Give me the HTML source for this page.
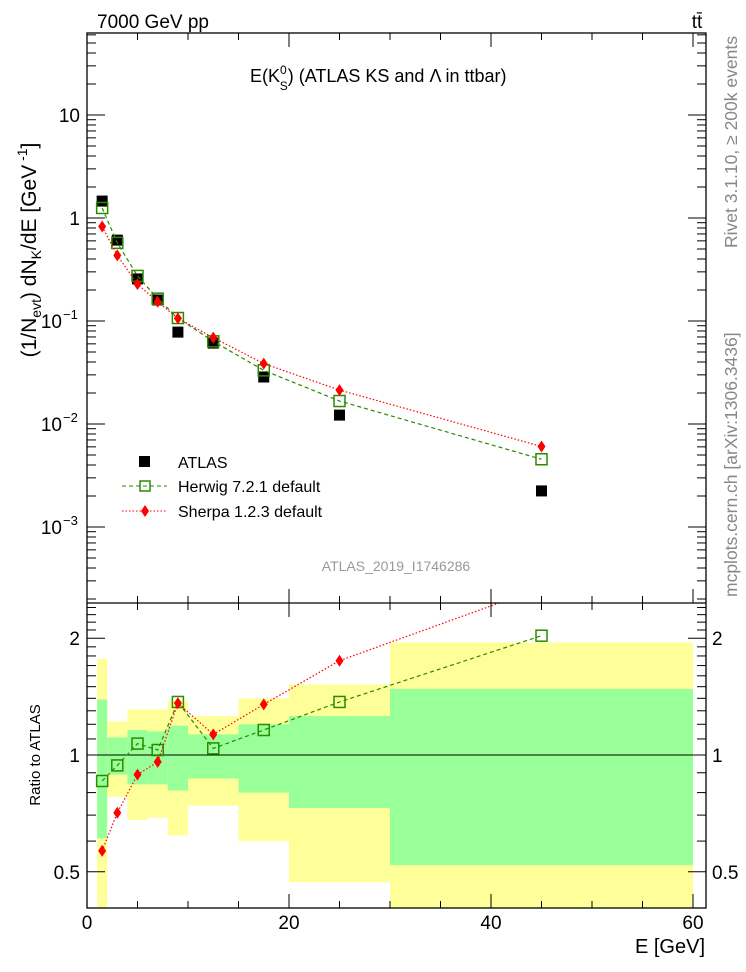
<!DOCTYPE html>
<html><head><meta charset="utf-8"><style>
body{margin:0;background:#fff;}
svg{display:block;font-family:"Liberation Sans",sans-serif;}
</style></head><body>
<svg id="chart" width="746" height="972" viewBox="0 0 746 972" xmlns="http://www.w3.org/2000/svg">
<text x="97" y="28" font-size="19">7000 GeV pp</text>
<text x="697" y="28" font-size="19" text-anchor="middle">tt̄</text>
<text x="250" y="82" font-size="18">E(K<tspan font-size="12" dy="-8">0</tspan><tspan font-size="12" dx="-7" dy="16">S</tspan><tspan dy="-8">) (ATLAS KS and Λ in ttbar)</tspan></text>
<text transform="translate(737,248) rotate(-90)" font-size="17.5" fill="#888">Rivet 3.1.10, ≥ 200k events</text>
<text transform="translate(737,597) rotate(-90)" font-size="17.5" fill="#888">mcplots.cern.ch [arXiv:1306.3436]</text>
<text transform="translate(36,250) rotate(-90)" font-size="21" text-anchor="middle">(1/N<tspan font-size="14" dy="5">evt</tspan><tspan dy="-5">) dN</tspan><tspan font-size="14" dy="5">K</tspan><tspan dy="-5">/dE [GeV</tspan><tspan font-size="14" dy="-9"> -1</tspan><tspan dy="9">]</tspan></text>
<text transform="translate(40,755) rotate(-90)" font-size="15" text-anchor="middle">Ratio to ATLAS</text>
<text x="705" y="953" font-size="20" text-anchor="end">E [GeV]</text>
<text x="396" y="571" font-size="14" fill="#999" text-anchor="middle">ATLAS_2019_I1746286</text>
<g id="bands"></g><g id="main"></g><g id="ratio"></g><g id="axes"></g>
<g>
<rect x="139" y="456" width="11" height="11" fill="#000"/>
<text x="178" y="468" font-size="16">ATLAS</text>
<line x1="122" y1="486" x2="167" y2="486" stroke="#2a8a00" stroke-dasharray="4,3"/>
<rect x="140" y="481" width="10" height="10" fill="none" stroke="#2a8a00" stroke-width="1.5"/>
<text x="178" y="492" font-size="16">Herwig 7.2.1 default</text>
<line x1="122" y1="511" x2="167" y2="511" stroke="#f00" stroke-dasharray="1.5,2"/>
<path d="M145,505 L149,511 L145,517 L141,511 Z" fill="#f00"/>
<text x="178" y="517" font-size="16">Sherpa 1.2.3 default</text>
</g>
</svg>
<script>
const xs=[1.5,3,5,7,9,12.5,17.5,25,45];
const binEdges=[1,2,4,6,8,10,15,20,30,60];
const atlas=[1.46,0.61,0.256,0.16,0.078,0.061,0.0286,0.0122,0.00224];
const herwigRatio=[0.857,0.94,1.07,1.03,1.37,1.04,1.16,1.37,2.03];
const sherpaRatio=[0.566,0.71,0.89,0.96,1.36,1.13,1.35,1.75,2.7];
const yellowUp=[1.77,1.22,1.31,1.31,1.38,1.26,1.40,1.52,1.95];
const yellowLo=[0.3,0.78,0.68,0.69,0.62,0.74,0.60,0.47,0.3];
const greenUp=[1.39,1.11,1.16,1.15,1.19,1.13,1.20,1.26,1.48];
const greenLo=[0.61,0.89,0.84,0.84,0.81,0.87,0.80,0.73,0.52];
const xTicks=[0,20,40,60];
const yTicks=[10,1,0.1,0.01,0.001];
const yTickLabels=['10','1','10','10','10'];
const yTickExp=['','','−1','−2','−3'];
const rTicks=[0.5,1,2];
const rTickLabels=['0.5','1','2'];

const L=87,R=706,T=33,MB=603,RB=908;
const X=v=>L+v*10.1;
const Y=v=>218-103*Math.log10(v);
const RY=v=>755-388*Math.log10(v);
const NS='http://www.w3.org/2000/svg';
function mk(tag,attrs,parent){const e=document.createElementNS(NS,tag);for(const k in attrs)e.setAttribute(k,attrs[k]);parent.appendChild(e);return e;}
const bands=document.getElementById('bands'),main=document.getElementById('main'),ratio=document.getElementById('ratio'),axes=document.getElementById('axes');
const clipR=v=>Math.max(T,Math.min(RB,v));
for(let i=0;i<binEdges.length-1;i++){
  const x0=X(binEdges[i]),x1=X(binEdges[i+1]);
  let y0=clipR(RY(yellowUp[i])),y1=Math.min(RB,RY(yellowLo[i]));
  const yb=mk('rect',{x:x0,y:y0,width:x1-x0,height:y1-y0,fill:'#ffff99'},bands);
  
  
  y0=RY(greenUp[i]);y1=RY(greenLo[i]);
  const gb=mk('rect',{x:x0,y:y0,width:x1-x0,height:y1-y0,fill:'#99ff99'},bands);
  
  
}
mk('line',{x1:L,y1:RY(1),x2:R,y2:RY(1),stroke:'#000','stroke-width':1},bands);
const defs=mk('defs',{},document.getElementById('chart'));
const c1=mk('clipPath',{id:'cm'},defs);mk('rect',{x:L,y:T,width:R-L,height:MB-T},c1);
const c2=mk('clipPath',{id:'cr'},defs);mk('rect',{x:L,y:MB,width:R-L,height:RB-MB},c2);
main.setAttribute('clip-path','url(#cm)');ratio.setAttribute('clip-path','url(#cr)');
const herwig=atlas.map((a,i)=>a*herwigRatio[i]);
const sherpa=atlas.map((a,i)=>a*sherpaRatio[i]);
function series(g,vals,f,color,dash,kind,name){
  const pts=xs.map((x,i)=>X(x)+','+f(vals[i])).join(' ');
  const pl=mk('polyline',{points:pts,fill:'none',stroke:color,'stroke-width':1.2,'stroke-dasharray':dash},g);
  
  
  xs.forEach((x,i)=>{
    const cx=X(x),cy=f(vals[i]);let m;
    if(kind==='sq') m=mk('rect',{x:cx-5.5,y:cy-5.5,width:11,height:11,fill:'none',stroke:color,'stroke-width':1.5},g);
    else m=mk('path',{d:`M${cx},${cy-6}L${cx+4},${cy}L${cx},${cy+6}L${cx-4},${cy}Z`,fill:color},g);
    
    
  });
}
xs.forEach((x,i)=>{const m=mk('rect',{x:X(x)-5.5,y:Y(atlas[i])-5.5,width:11,height:11,fill:'#000'},main);
  
  });
series(main,herwig,Y,'#2a8a00','4,3','sq','herwig');
series(main,sherpa,Y,'#f00','1.5,2','dia','sherpa');
series(ratio,herwigRatio,RY,'#2a8a00','4,3','sq','herwig-ratio');
series(ratio,sherpaRatio,RY,'#f00','1.5,2','dia','sherpa-ratio');
mk('rect',{x:L,y:T,width:R-L,height:RB-T,fill:'none',stroke:'#000','stroke-width':1.3},axes);
mk('line',{x1:L,y1:MB,x2:R,y2:MB,stroke:'#000','stroke-width':1.3},axes);
for(let v=0;v<=60;v+=5){const big=v%20===0;const x=X(v);
  [[MB,-1],[RB,-1],[T,1]].forEach(([y,d])=>{mk('line',{x1:x,y1:y,x2:x,y2:y+d*(big?14:7),stroke:'#000'},axes);});
  if(v>0&&v<60){mk('line',{x1:x,y1:MB,x2:x,y2:MB+(big?14:7),stroke:'#000'},axes);}
}
xTicks.forEach(v=>{const t=mk('text',{x:X(v),y:929,'font-size':19,'text-anchor':'middle'},axes);t.textContent=v;
  
  });
for(let e=-4;e<=1;e++){for(let k=1;k<=9;k++){const v=k*Math.pow(10,e);const y=Y(v);if(y<T||y>MB)continue;const len=k===1?18:9;
  mk('line',{x1:L,y1:y,x2:L+len,y2:y,stroke:'#000'},axes);mk('line',{x1:R,y1:y,x2:R-len,y2:y,stroke:'#000'},axes);}}
yTicks.forEach((v,i)=>{const t=mk('text',{x:yTickExp[i]?62:80,y:Y(v)+7,'font-size':19,'text-anchor':'end'},axes);t.textContent=yTickLabels[i];
  
  
  if(yTickExp[i]){const s=mk('text',{x:63,y:Y(v)-2,'font-size':13},axes);s.textContent=yTickExp[i];}});
[0.4,0.5,0.6,0.7,0.8,0.9,1,1.1,1.2,1.3,1.4,1.5,1.6,1.7,1.8,1.9,2,2.1,2.2,2.3,2.4].forEach(v=>{const y=RY(v);if(y<MB||y>RB)return;const big=rTicks.includes(v);const len=big?18:9;
  mk('line',{x1:L,y1:y,x2:L+len,y2:y,stroke:'#000'},axes);mk('line',{x1:R,y1:y,x2:R-len,y2:y,stroke:'#000'},axes);});
rTicks.forEach((v,i)=>{[[80,'end'],[712,'start']].forEach(([x,a])=>{const t=mk('text',{x:x,y:RY(v)+7,'font-size':19,'text-anchor':a},axes);t.textContent=rTickLabels[i];
  
  });});
</script>
</body></html>
